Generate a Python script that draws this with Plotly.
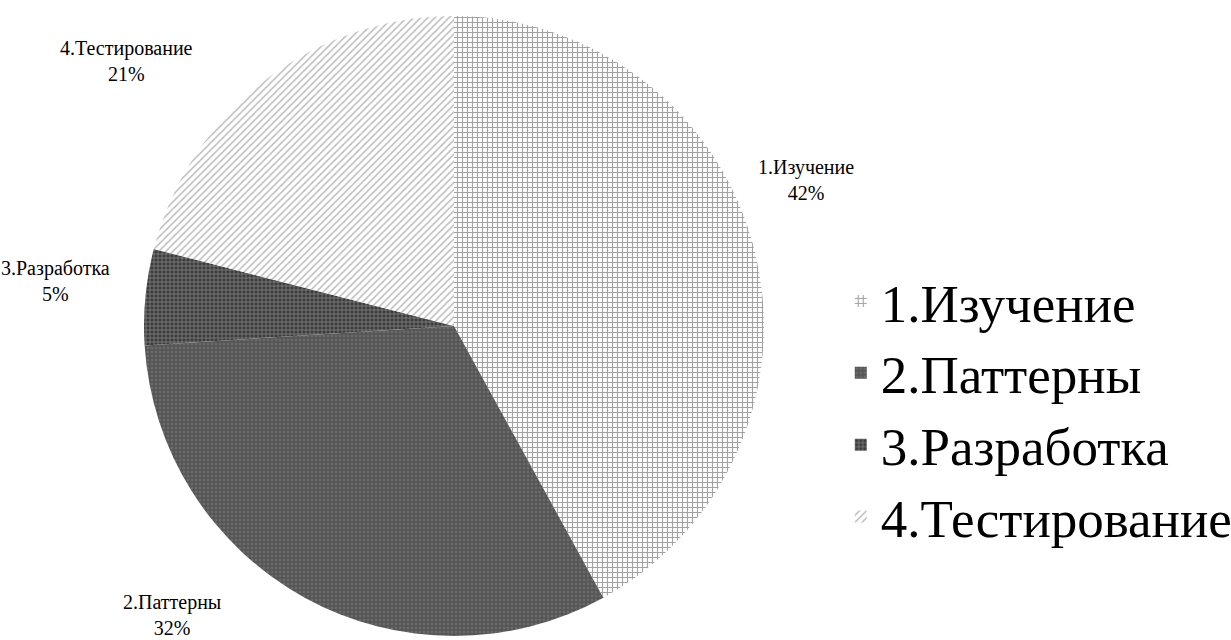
import plotly.graph_objects as go

# Доля этапов работы
labels = ["1.Изучение", "2.Паттерны", "3.Разработка", "4.Тестирование"]
values = [42, 32, 5, 21]

# Штриховки секторов (как в исходной диаграмме Excel)
pattern_shapes = ["+", "+", "+", "/"]
pattern_fg = ["#454545", "#2e2e2e", "#e0e0e0", "#7a7a7a"]
pattern_bg = ["#ffffff", "#6a6a6a", "#3c3c3c", "#ffffff"]
pattern_size = [5, 4, 4, 5]
pattern_solidity = [0.4, 0.45, 0.3, 0.3]

# Положения подписей (доли области рисунка)
label_x = [0.655, 0.140, 0.045, 0.103]
label_y = [0.719, 0.039, 0.561, 0.905]

SERIF = "Liberation Serif, Times New Roman, serif"

fig = go.Figure(
    go.Pie(
        labels=labels,
        values=values,
        sort=False,
        direction="clockwise",
        rotation=0,
        textinfo="none",
        hoverinfo="label+percent",
        marker=dict(
            colors=pattern_bg,
            line=dict(width=0),
            pattern=dict(
                shape=pattern_shapes,
                fgcolor=pattern_fg,
                bgcolor=pattern_bg,
                size=pattern_size,
                solidity=pattern_solidity,
                fillmode="overlay",
            ),
        ),
        domain=dict(x=[0.117, 0.6206], y=[0.00625, 0.975]),
    )
)

for lab, val, x, y in zip(labels, values, label_x, label_y):
    fig.add_annotation(
        x=x, y=y, xref="paper", yref="paper",
        xanchor="center", yanchor="middle",
        text=f"{lab}<br>{val}%",
        showarrow=False,
        align="center",
        font=dict(family=SERIF, size=20, color="#000000"),
    )

fig.update_layout(
    width=1231,
    height=640,
    margin=dict(l=0, r=0, t=0, b=0, autoexpand=False),
    paper_bgcolor="#ffffff",
    plot_bgcolor="#ffffff",
    font=dict(family=SERIF, color="#000000"),
    legend=dict(
        x=0.683, y=0.361, xanchor="left", yanchor="middle",
        font=dict(family=SERIF, size=53, color="#000000"),
    ),
    showlegend=True,
)

fig.write_html("out.html")
